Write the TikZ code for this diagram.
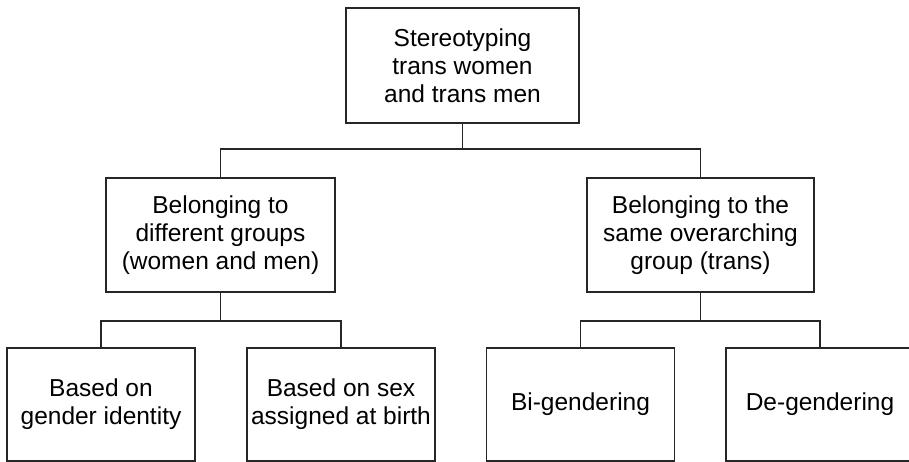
\documentclass[tikz,border=0pt]{standalone}
\usepackage{fontspec}
\setmainfont{Liberation Sans}

\begin{document}
\begin{tikzpicture}[x=1pt,y=-1pt,
  box/.style={draw=black!85,line width=1.3pt,align=center,inner sep=0pt,
    font=\fontsize{24.5}{28}\selectfont},
  leaf/.style={box,minimum width=188,minimum height=113},
  link/.style={draw=black!85,line width=1.3pt}]
\useasboundingbox (0,0) rectangle (909,462);
\clip (0,0) rectangle (909,462);
\node[box,minimum width=233,minimum height=115] (root) at (462.5,65.5) {Stereotyping\\trans women\\and trans men};
\node[box,minimum width=229,minimum height=114] (diff) at (220.5,235) {Belonging to\\different groups\\(women and men)};
\node[box,minimum width=227,minimum height=114] (same) at (700.5,235) {Belonging to the\\same overarching\\group (trans)};
\node[leaf] (identity) at (101,404.5) {Based on\\gender identity};
\node[leaf] (birth) at (341,404.5) {Based on sex\\assigned at birth};
\node[leaf] (bigender) at (580.5,404.5) {Bi-gendering};
\node[leaf] (degender) at (820,404.5) {De-gendering};
\coordinate (bus0) at (462.5,149);
\coordinate (bus1) at (220.5,321);
\coordinate (bus2) at (700.5,321);
\draw[link] (root.south) -- (bus0);
\draw[link] (bus0) -| (diff.north);
\draw[link] (bus0) -| (same.north);
\draw[link] (diff.south) -- (bus1);
\draw[link] (bus1) -| (identity.north);
\draw[link] (bus1) -| (birth.north);
\draw[link] (same.south) -- (bus2);
\draw[link] (bus2) -| (bigender.north);
\draw[link] (bus2) -| (degender.north);
\end{tikzpicture}
\end{document}
